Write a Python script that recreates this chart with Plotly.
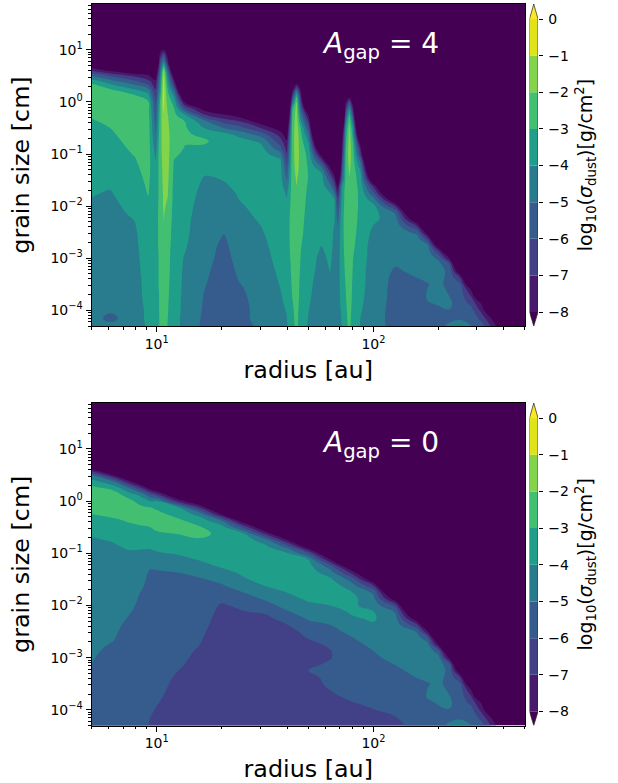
import plotly.graph_objects as go

W, H = 618, 783
# log10 of grain size [cm] at the grid rows, bottom to top
log_grain = [-4.3,-4.15,-4,-3.875,-3.75,-3.625,-3.5,-3.375,-3.25,-3.125,-3,-2.875,-2.75,-2.625,-2.5,-2.375,-2.25,-2.125,-2,-1.875,-1.75,-1.625,-1.5,-1.375,-1.25,-1.125,-1,-.875,-.75,-.625,-.5,-.375,-.25,-.125,0,.125,.25,.375,.5,.625,.75,1,1.25,1.9]

# log10 of radius [au] at the grid columns
log_radius_gap4 = [.70,.785,.90,.96,.995,1.015,1.032,1.05,1.08,1.13,1.22,1.31,1.38,1.48,1.57,1.60,1.625,1.645,1.665,1.70,1.76,1.80,1.82,1.835,1.855,1.872,1.889,1.906,1.94,2.0,2.1,2.2,2.25,2.3,2.35,2.4,2.45,2.5,2.55,2.6,2.7]
# log10(sigma_dust), one list per radius, bottom to top (off-scale sky omitted at the end of each list)
sigma_gap4 = [
[-4.6,-4.6,-4.55,-4.53,-4.5,-4.48,-4.45,-4.43,-4.4,-4.38,-4.35,-4.33,-4.3,-4.28,-4.25,-4.23,-4.2,-4.15,-4.1,-4.03,-3.95,-3.85,-3.75,-3.65,-3.55,-3.48,-3.4,-3.33,-3.25,-3.18,-3.1,-3.08,-2.9,-2.6,-2.35,-2.25,-2.5,-3.1,-4.9,-7.5,-10,-14,-16],
[-4.75,-5.25,-4.85,-4.75,-4.6,-4.58,-4.55,-4.53,-4.5,-4.48,-4.45,-4.43,-4.4,-4.38,-4.35,-4.33,-4.3,-4.25,-4.2,-4.13,-4.05,-3.95,-3.85,-3.73,-3.6,-3.48,-3.35,-3.28,-3.2,-3.1,-3.0,-2.85,-2.7,-2.5,-2.4,-2.5,-3.0,-4.3,-6,-8.6,-11.1,-15,-16],
[-4.5,-4.45,-4.4,-4.35,-4.3,-4.3,-4.3,-4.28,-4.25,-4.23,-4.2,-4.18,-4.15,-4.13,-4.1,-4.03,-3.97,-3.85,-3.75,-3.65,-3.55,-3.45,-3.35,-3.25,-3.15,-3.05,-2.95,-2.85,-2.75,-2.68,-2.6,-2.55,-2.5,-2.5,-2.6,-2.95,-4.1,-5.5,-7.2,-9.8,-12.3,-15,-16],
[-3.85,-3.8,-3.8,-3.78,-3.75,-3.73,-3.7,-3.68,-3.65,-3.63,-3.6,-3.58,-3.55,-3.5,-3.45,-3.4,-3.35,-3.28,-3.2,-3.08,-2.95,-2.88,-2.8,-2.73,-2.65,-2.6,-2.55,-2.53,-2.5,-2.5,-2.5,-2.52,-2.55,-2.65,-2.85,-3.6,-4.9,-6.5,-7.8,-9,-12,-15,-16],
[-3.25,-3.25,-3.2,-3.2,-3.2,-3.2,-3.2,-3.2,-3.2,-3.2,-3.2,-3.2,-3.2,-3.2,-3.2,-3.22,-3.25,-3.3,-3.35,-3.43,-3.5,-3.6,-3.7,-3.8,-3.9,-3.98,-4.2,-4.45,-4.75,-4.97,-5.2,-5.4,-5.6,-5.85,-6.1,-6.6,-7.1,-7.65,-8.7,-10,-13,-15,-16],
[-2.95,-2.95,-2.95,-2.95,-2.95,-2.93,-2.9,-2.9,-2.9,-2.9,-2.9,-2.88,-2.85,-2.85,-2.85,-2.83,-2.8,-2.78,-2.75,-2.73,-2.7,-2.65,-2.6,-2.55,-2.5,-2.45,-2.4,-2.4,-2.4,-2.45,-2.5,-2.6,-2.7,-2.8,-2.95,-3.4,-3.9,-4.3,-4.8,-5.5,-6.2,-8.6,-16],
[-2.4,-2.4,-2.35,-2.35,-2.35,-2.33,-2.3,-2.28,-2.25,-2.23,-2.2,-2.18,-2.15,-2.13,-2.1,-2.04,-1.98,-1.93,-1.87,-1.83,-1.8,-1.76,-1.72,-1.68,-1.65,-1.6,-1.55,-1.5,-1.45,-1.38,-1.3,-1.18,-1.05,-.92,-.8,-.75,-.75,-.8,-.95,-1.9,-4,-7.8,-13],
[-3.02,-2.98,-2.95,-2.93,-2.9,-2.88,-2.85,-2.83,-2.8,-2.78,-2.75,-2.73,-2.7,-2.65,-2.6,-2.5,-2.4,-2.28,-2.15,-2.03,-1.93,-1.86,-1.8,-1.75,-1.72,-1.7,-1.7,-1.72,-1.75,-1.8,-1.85,-1.9,-1.95,-2.12,-2.35,-2.65,-3.0,-3.6,-4.2,-5.4,-7,-9.2,-16],
[-3.5,-3.5,-3.45,-3.45,-3.45,-3.43,-3.4,-3.4,-3.4,-3.4,-3.4,-3.38,-3.35,-3.35,-3.35,-3.35,-3.35,-3.35,-3.35,-3.33,-3.3,-3.28,-3.25,-3.2,-3.13,-3.03,-2.85,-2.65,-2.55,-2.5,-2.5,-2.6,-2.75,-2.95,-3.4,-4.2,-5.6,-7.2,-8.9,-11,-13,-16],
[-4.4,-4.4,-4.35,-4.33,-4.3,-4.28,-4.25,-4.23,-4.2,-4.15,-4.1,-3.98,-3.9,-3.85,-3.8,-3.78,-3.75,-3.7,-3.65,-3.6,-3.55,-3.48,-3.4,-3.35,-3.3,-3.22,-3.15,-3.03,-2.93,-2.9,-2.88,-3.0,-3.85,-6.0,-8.2,-10.5,-13,-15,-16],
[-5.2,-5.15,-5.1,-5.08,-5.05,-5.0,-4.95,-4.9,-4.85,-4.8,-4.75,-4.73,-4.7,-4.65,-4.6,-4.58,-4.55,-4.5,-4.45,-4.38,-4.3,-4.2,-4.1,-3.93,-3.75,-3.5,-3.3,-3.1,-2.9,-3.15,-4.0,-4.7,-6.9,-8.6,-11,-13,-15,-16],
[-5.5,-5.5,-5.5,-5.5,-5.5,-5.45,-5.4,-5.38,-5.35,-5.3,-5.25,-5.2,-5.15,-5.07,-4.97,-4.87,-4.75,-4.63,-4.5,-4.38,-4.25,-4.12,-3.98,-3.85,-3.7,-3.57,-3.45,-3.38,-3.35,-3.6,-5.0,-6.4,-7.8,-10.3,-12.8,-15,-16],
[-5.2,-5.2,-5.2,-5.18,-5.15,-5.1,-5.03,-4.95,-4.88,-4.82,-4.75,-4.7,-4.65,-4.58,-4.5,-4.4,-4.3,-4.2,-4.1,-4.0,-3.92,-3.8,-3.7,-3.6,-3.5,-3.45,-3.4,-3.45,-3.6,-4.3,-5.6,-6.9,-8.6,-11,-13.5,-15,-16],
[-4.9,-4.8,-4.8,-4.78,-4.75,-4.73,-4.7,-4.65,-4.6,-4.55,-4.5,-4.4,-4.3,-4.2,-4.1,-4.0,-3.9,-3.82,-3.75,-3.7,-3.65,-3.6,-3.55,-3.52,-3.5,-3.5,-3.5,-3.7,-4.2,-5.4,-7.0,-8.7,-11,-13.5,-15,-16],
[-4.2,-4.2,-4.2,-4.15,-4.1,-4.02,-3.95,-3.87,-3.8,-3.7,-3.6,-3.55,-3.5,-3.48,-3.45,-3.45,-3.45,-3.45,-3.45,-3.47,-3.5,-3.55,-3.6,-3.65,-3.7,-3.8,-4.7,-5.8,-6.6,-7.4,-8.7,-11,-13,-15,-16],
[-4.1,-4.02,-3.95,-3.85,-3.75,-3.67,-3.6,-3.52,-3.45,-3.4,-3.35,-3.32,-3.3,-3.3,-3.3,-3.33,-3.4,-3.52,-3.7,-3.9,-4.15,-4.55,-5,-5.45,-5.9,-6.4,-6.9,-7.4,-7.9,-8.7,-9.6,-11,-13,-15,-16],
[-3.25,-3.2,-3.15,-3.08,-3.0,-2.95,-2.9,-2.88,-2.85,-2.83,-2.8,-2.78,-2.75,-2.73,-2.7,-2.68,-2.65,-2.63,-2.6,-2.58,-2.55,-2.53,-2.5,-2.48,-2.45,-2.45,-2.45,-2.48,-2.5,-2.55,-2.6,-2.72,-2.85,-3.3,-5.3,-7.0,-8.7,-11,-13.5,-16],
[-2.8,-2.75,-2.7,-2.65,-2.6,-2.58,-2.55,-2.53,-2.5,-2.48,-2.45,-2.43,-2.4,-2.38,-2.35,-2.33,-2.3,-2.25,-2.2,-2.15,-2.1,-2.02,-1.92,-1.78,-1.65,-1.57,-1.5,-1.45,-1.4,-1.4,-1.4,-1.45,-1.5,-1.65,-1.9,-3.2,-5.9,-8.7,-11.5,-14,-16],
[-3.5,-3.45,-3.4,-3.35,-3.3,-3.27,-3.25,-3.2,-3.15,-3.1,-3.05,-3.0,-2.95,-2.88,-2.8,-2.75,-2.7,-2.65,-2.6,-2.55,-2.5,-2.45,-2.4,-2.37,-2.35,-2.37,-2.4,-2.48,-2.6,-2.8,-3.1,-3.9,-4.7,-5.6,-6.6,-7.4,-8.4,-11,-14,-16],
[-4.1,-4.03,-3.98,-3.94,-3.9,-3.85,-3.8,-3.75,-3.7,-3.67,-3.65,-3.6,-3.55,-3.5,-3.45,-3.43,-3.4,-3.35,-3.3,-3.25,-3.2,-3.13,-3.05,-3.05,-3.1,-3.2,-3.3,-3.6,-4.15,-4.85,-5.8,-6.9,-8.1,-10.6,-13,-15,-16],
[-4.5,-4.45,-4.45,-4.43,-4.4,-4.4,-4.4,-4.35,-4.3,-4.25,-4.2,-4.1,-3.98,-3.87,-3.75,-3.67,-3.6,-3.55,-3.5,-3.5,-3.5,-3.55,-3.6,-3.9,-5.0,-6.6,-8.8,-11.3,-13.8,-16],
[-4.4,-4.35,-4.35,-4.3,-4.25,-4.2,-4.15,-4.07,-3.98,-3.92,-3.85,-3.78,-3.7,-3.65,-3.6,-3.57,-3.55,-3.57,-3.6,-3.7,-3.95,-4.7,-5.6,-6.8,-8.1,-10.6,-13,-15,-16],
[-4.4,-4.4,-4.4,-4.4,-4.4,-4.4,-4.4,-4.38,-4.35,-4.33,-4.3,-4.28,-4.25,-4.2,-4.15,-4.05,-3.95,-3.88,-3.85,-3.97,-4.95,-6.2,-7.2,-8.4,-10.8,-13.3,-15,-16],
[-4.4,-4.4,-4.4,-4.4,-4.4,-4.4,-4.4,-4.43,-4.45,-4.47,-4.5,-4.55,-4.6,-4.7,-4.8,-5.0,-5.3,-5.65,-6.1,-6.6,-7.4,-8.3,-10,-12,-14,-15,-16],
[-3.95,-3.9,-3.8,-3.7,-3.6,-3.55,-3.5,-3.45,-3.4,-3.38,-3.35,-3.33,-3.3,-3.3,-3.3,-3.33,-3.35,-3.42,-3.5,-3.6,-3.7,-3.97,-5.1,-5.6,-6.1,-6.65,-7.2,-7.7,-8.2,-9,-10.3,-12.5,-14.5,-16],
[-3.25,-3.2,-3.15,-3.1,-3.05,-3.0,-2.95,-2.9,-2.85,-2.8,-2.75,-2.7,-2.65,-2.62,-2.6,-2.57,-2.55,-2.55,-2.55,-2.58,-2.6,-2.62,-2.65,-2.7,-2.75,-2.82,-2.9,-3.07,-3.25,-3.5,-3.85,-4.65,-5.7,-6.9,-8.1,-10.6,-13,-15,-16],
[-2.75,-2.7,-2.6,-2.55,-2.5,-2.48,-2.45,-2.43,-2.4,-2.38,-2.35,-2.33,-2.3,-2.3,-2.3,-2.28,-2.25,-2.23,-2.2,-2.18,-2.15,-2.1,-2.05,-1.95,-1.8,-1.65,-1.55,-1.5,-1.55,-1.6,-1.75,-2.1,-2.8,-4.2,-6.2,-8.9,-11.5,-14,-16],
[-3.5,-3.45,-3.4,-3.35,-3.3,-3.25,-3.2,-3.15,-3.1,-3.05,-3.0,-2.93,-2.85,-2.78,-2.7,-2.65,-2.6,-2.55,-2.5,-2.47,-2.45,-2.45,-2.45,-2.5,-2.55,-2.62,-2.7,-2.85,-3.1,-3.5,-4.0,-5.0,-6.3,-7.5,-8.9,-11.4,-14,-16],
[-4.05,-4.0,-3.92,-3.86,-3.8,-3.75,-3.7,-3.67,-3.65,-3.6,-3.55,-3.52,-3.5,-3.45,-3.4,-3.35,-3.3,-3.27,-3.25,-3.27,-3.3,-3.4,-3.6,-3.8,-4.4,-5.3,-6.7,-7.6,-9.4,-11.9,-14,-16],
[-4.6,-4.6,-4.55,-4.53,-4.5,-4.5,-4.5,-4.5,-4.5,-4.48,-4.45,-4.43,-4.4,-4.3,-4.2,-4.02,-3.8,-3.65,-3.7,-4.5,-5.8,-7.1,-9.6,-12,-14,-16],
[-5.3,-5.35,-5.35,-5.33,-5.3,-5.28,-5.25,-5.2,-5.1,-4.95,-4.8,-4.6,-4.45,-4.38,-4.35,-4.4,-4.55,-5.1,-7.0,-9.5,-12,-14.5,-16],
[-5.5,-5.5,-5.5,-5.48,-5.45,-5.3,-5.15,-5.0,-4.85,-4.72,-4.6,-4.55,-4.5,-4.55,-5.3,-7.1,-9.6,-12,-14,-16],
[-5.5,-5.4,-5.2,-5.05,-4.93,-4.97,-5.04,-4.85,-4.7,-4.6,-4.55,-4.6,-4.95,-6.6,-9,-11.5,-14,-16],
[-5.2,-5.25,-5.1,-4.95,-4.7,-4.6,-4.75,-4.65,-4.55,-4.7,-5.2,-6.6,-9.3,-11.8,-14,-16],
[-4.85,-5.2,-5.03,-4.85,-4.97,-5.15,-5.3,-5.3,-5.3,-5.8,-8.0,-10.5,-13,-15,-16],
[-4.85,-5.05,-5.3,-5.45,-5.5,-5.55,-5.8,-7,-9.4,-11.9,-14,-16],
[-4.95,-5.3,-5.6,-6.2,-6.85,-7.8,-10,-12.5,-15,-16],
[-5.6,-6.4,-7.4,-8.1,-10.5,-13,-15,-16],
[-7.3,-8.3,-10.5,-13,-15,-16],
[-9.5,-11.5,-14,-16],
[-16,-17],
]

log_radius_gap0 = [.70,.80,.87,.93,.97,1.0,1.1,1.2,1.3,1.4,1.5,1.6,1.7,1.8,1.9,2.0,2.1,2.2,2.25,2.3,2.35,2.4,2.45,2.5,2.55,2.6,2.7]
sigma_gap0 = [
[-5.45,-5.4,-5.35,-5.3,-5.25,-5.2,-5.15,-5.1,-5.05,-5,-4.95,-4.9,-4.85,-4.8,-4.75,-4.7,-4.65,-4.6,-4.55,-4.5,-4.45,-4.4,-4.35,-4.3,-4.25,-4.2,-4.15,-4.1,-4.05,-3.95,-3.7,-3.3,-3.0,-2.7,-2.5,-2.4,-2.75,-3.5,-5.0,-8.5,-11,-16,-16],
[-5.6,-5.6,-5.55,-5.53,-5.5,-5.48,-5.45,-5.4,-5.35,-5.3,-5.25,-5.15,-5.05,-4.95,-4.85,-4.78,-4.7,-4.62,-4.55,-4.5,-4.45,-4.38,-4.3,-4.25,-4.2,-4.15,-4.1,-4.05,-3.97,-3.7,-3.35,-3.1,-2.85,-2.6,-2.45,-2.6,-3.25,-5.0,-8.1,-10.3,-13,-16],
[-5.7,-5.7,-5.7,-5.68,-5.65,-5.63,-5.6,-5.58,-5.55,-5.53,-5.5,-5.45,-5.4,-5.35,-5.3,-5.18,-5.05,-4.93,-4.8,-4.7,-4.6,-4.5,-4.4,-4.3,-4.2,-4.12,-4.05,-3.95,-3.75,-3.4,-3.12,-2.95,-2.8,-2.7,-2.75,-3.4,-5.0,-7.6,-10.1,-12.6,-15,-16],
[-5.8,-5.8,-5.75,-5.73,-5.7,-5.68,-5.65,-5.63,-5.6,-5.58,-5.55,-5.53,-5.5,-5.45,-5.4,-5.35,-5.3,-5.25,-5.2,-5.13,-5.05,-4.9,-4.75,-4.58,-4.4,-4.27,-4.15,-3.9,-3.65,-3.3,-3.05,-2.85,-2.75,-2.85,-3.35,-4.4,-7,-9.6,-12,-15,-16],
[-6.05,-6.0,-5.9,-5.85,-5.8,-5.78,-5.75,-5.73,-5.7,-5.68,-5.65,-5.63,-5.6,-5.58,-5.55,-5.53,-5.5,-5.45,-5.4,-5.38,-5.35,-5.3,-5.25,-5.15,-4.85,-4.6,-4.25,-3.85,-3.55,-3.25,-3.0,-2.85,-2.7,-2.95,-4.0,-5.8,-8.6,-11,-14,-16],
[-6.2,-6.15,-6.05,-5.97,-5.9,-5.85,-5.8,-5.78,-5.75,-5.73,-5.7,-5.68,-5.65,-5.63,-5.6,-5.55,-5.5,-5.45,-5.4,-5.35,-5.3,-5.25,-5.2,-5.1,-4.85,-4.5,-4.1,-3.75,-3.4,-3.1,-2.85,-2.75,-2.75,-3.15,-3.95,-6.6,-9.4,-12,-14,-16],
[-6.4,-6.4,-6.35,-6.3,-6.25,-6.2,-6.15,-6.08,-6.0,-5.9,-5.8,-5.75,-5.7,-5.65,-5.6,-5.55,-5.5,-5.45,-5.4,-5.35,-5.3,-5.25,-5.15,-5.0,-4.6,-4.3,-3.9,-3.55,-3.2,-2.98,-2.75,-2.85,-3.3,-3.9,-7.4,-10,-12.5,-15,-17],
[-6.45,-6.45,-6.4,-6.4,-6.4,-6.38,-6.35,-6.33,-6.3,-6.25,-6.2,-6.1,-6.0,-5.93,-5.85,-5.75,-5.65,-5.58,-5.5,-5.43,-5.35,-5.2,-5.1,-4.7,-4.3,-3.95,-3.65,-3.3,-3.05,-2.9,-2.95,-3.4,-4.4,-7,-9.6,-12,-14,-16],
[-6.6,-6.6,-6.6,-6.6,-6.6,-6.6,-6.6,-6.6,-6.6,-6.58,-6.55,-6.53,-6.5,-6.45,-6.4,-6.35,-6.3,-6.2,-6.1,-5.8,-5.45,-5.1,-4.75,-4.3,-3.9,-3.7,-3.55,-3.25,-3.03,-3.1,-3.55,-5,-8.2,-10.7,-13,-14,-16],
[-6.65,-6.65,-6.65,-6.63,-6.6,-6.6,-6.6,-6.6,-6.6,-6.58,-6.55,-6.53,-6.5,-6.45,-6.4,-6.3,-6.2,-6.05,-5.8,-5.4,-5.0,-4.55,-4.1,-3.85,-3.65,-3.5,-3.35,-3.3,-3.45,-3.85,-6.2,-8.9,-11.4,-14,-16],
[-6.7,-6.7,-6.7,-6.7,-6.7,-6.7,-6.7,-6.7,-6.7,-6.68,-6.65,-6.63,-6.6,-6.55,-6.5,-6.4,-6.3,-5.85,-5.35,-4.9,-4.45,-4.0,-3.7,-3.55,-3.4,-3.4,-3.6,-3.75,-4.5,-7.1,-9.6,-12,-14,-16],
[-6.7,-6.7,-6.7,-6.7,-6.7,-6.68,-6.65,-6.65,-6.65,-6.63,-6.6,-6.6,-6.6,-6.55,-6.45,-6.05,-5.55,-5.1,-4.7,-4.35,-4.0,-3.7,-3.5,-3.45,-3.5,-3.65,-3.85,-5.3,-7.8,-10.3,-12.8,-15,-16],
[-6.65,-6.65,-6.6,-6.55,-6.5,-6.4,-6.3,-6.2,-6.0,-6.15,-6.3,-6.35,-6.25,-5.95,-5.6,-5.25,-4.9,-4.55,-4.2,-3.85,-3.6,-3.5,-3.45,-3.5,-3.65,-4.0,-6.0,-8.9,-11.4,-13.9,-16],
[-6.45,-6.4,-6.3,-6.25,-6.15,-6.0,-5.85,-5.8,-5.8,-5.9,-6.05,-6.05,-5.85,-5.6,-5.3,-5.0,-4.7,-4.35,-4.0,-3.65,-3.45,-3.4,-3.8,-4.5,-5.5,-7.9,-10.4,-13,-15,-16],
[-6.35,-6.3,-6.2,-6.05,-5.85,-5.7,-5.6,-5.55,-5.5,-5.45,-5.4,-5.35,-5.25,-5.05,-4.75,-4.5,-4.1,-3.9,-3.8,-3.7,-3.95,-4.55,-5.4,-7.2,-9.7,-12,-14,-16],
[-6.2,-6.12,-6.02,-5.85,-5.7,-5.55,-5.45,-5.38,-5.3,-5.22,-5.15,-5.0,-4.8,-4.55,-4.3,-4.1,-3.9,-3.95,-4.45,-4.75,-5.15,-6.8,-9.2,-11.7,-14,-16],
[-6.15,-6.03,-5.85,-5.75,-5.65,-5.57,-5.5,-5.4,-5.2,-4.98,-4.75,-4.6,-4.5,-4.42,-4.4,-4.45,-4.65,-5.05,-6.2,-8.7,-11.2,-13.7,-16],
[-5.8,-5.7,-5.65,-5.58,-5.5,-5.4,-5.2,-4.97,-4.75,-4.6,-4.5,-4.45,-4.45,-4.6,-5.05,-6.7,-9,-11.5,-14,-16],
[-5.6,-5.45,-5.3,-5.15,-4.93,-4.97,-5.05,-4.8,-4.6,-4.5,-4.45,-4.45,-4.7,-5.6,-8,-10.5,-13,-15,-16],
[-5.2,-5.25,-5.1,-4.95,-4.7,-4.6,-4.8,-4.7,-4.55,-4.5,-4.65,-5.5,-8.2,-10.7,-13.2,-15,-16],
[-4.85,-5.2,-5.03,-4.85,-4.95,-5.15,-5.3,-5.3,-5.25,-5.7,-8.4,-10.9,-13.4,-15,-16],
[-4.85,-5.05,-5.3,-5.45,-5.5,-5.55,-5.8,-7,-9.4,-11.9,-14,-16],
[-4.95,-5.3,-5.6,-6.2,-6.85,-7.8,-10,-12.5,-15,-16],
[-5.6,-6.4,-7.4,-8.1,-10.5,-13,-15,-16],
[-7.3,-8.3,-10.5,-13,-15,-16],
[-9.5,-11.5,-14,-16],
[-16,-17],
]

# band colours: below -8, the eight unit bands from -8 to 0, above 0
band_colors = ["#440154","#481a6c","#424086","#365c8d","#297b8e","#1f9e89","#43bf71","#84d44b","#dfe318","#fde725"]
levels = [-8,-7,-6,-5,-4,-3,-2,-1,0]
x_ticks = [10,100]
x_ticktext = ["10<sup>1</sup>","10<sup>2</sup>"]
y_ticks = [1e-4,1e-3,1e-2,1e-1,1,10]
y_ticktext = ["10<sup>\u22124</sup>","10<sup>\u22123</sup>","10<sup>\u22122</sup>","10<sup>\u22121</sup>","10<sup>0</sup>","10<sup>1</sup>"]
panel_labels = ["<i>A</i><sub>gap</sub> = 4","<i>A</i><sub>gap</sub> = 0"]
x_title, y_title = "radius [au]", "grain size [cm]"
cb_title = "log<sub>10</sub>(<i>σ</i><sub>dust</sub>)[g/cm<sup>2</sup>]"

FONT = "DejaVu Sans"
n = len(band_colors)
cscale = []
for i, c in enumerate(band_colors):
    cscale += [[i/n, c], [(i+1)/n, c]]

def grid(cols):
    rows = len(log_grain)
    full = [c + [-18.0]*(rows-len(c)) for c in cols]
    return [[full[j][i] for j in range(len(full))] for i in range(rows)]

fig = go.Figure()
panels = [
    dict(lr=log_radius_gap4, z=sigma_gap4, top=4, bot=326),
    dict(lr=log_radius_gap0, z=sigma_gap0, top=403, bot=725.5),
]
layout = dict(
    width=W, height=H, margin=dict(l=0,r=0,t=0,b=0), paper_bgcolor="white", plot_bgcolor="white",
    showlegend=False, barmode="overlay", font=dict(family=FONT, color="black"), annotations=[],
)
for k, p in enumerate(panels):
    xa_main, ya_main = ("x","y") if k==0 else ("x3","y3")
    xa_cb, ya_cb = ("x2","y2") if k==0 else ("x4","y4")
    dom_y = [1-p["bot"]/H, 1-p["top"]/H]
    fig.add_trace(go.Contour(
        x=[10**v for v in p["lr"]], y=[10**v for v in log_grain], z=grid(p["z"]),
        xaxis=xa_main, yaxis=ya_main, colorscale=cscale, showscale=False, hoverinfo="skip",
        autocontour=False, contours=dict(start=-8,end=0,size=1,coloring="fill",showlines=False),
        line=dict(width=0,smoothing=1.3),
    ))
    # colour bar with triangular extensions
    fig.add_trace(go.Bar(x=[0.5]*8, y=[1]*8, base=levels[:-1], width=1, marker=dict(color=band_colors[1:9],line=dict(width=0)),
                         xaxis=xa_cb, yaxis=ya_cb, hoverinfo="skip"))
    fig.add_trace(go.Scatter(x=[0,.5,1,0], y=[0,.41,0,0], fill="toself", fillcolor=band_colors[-1], mode="none",
                             xaxis=xa_cb, yaxis=ya_cb, hoverinfo="skip"))
    fig.add_trace(go.Scatter(x=[0,.5,1,0], y=[-8,-8.38,-8,-8], fill="toself", fillcolor=band_colors[0], mode="none",
                             xaxis=xa_cb, yaxis=ya_cb, hoverinfo="skip"))
    fig.add_trace(go.Scatter(x=[0,.5,1,1,.5,0,0], y=[0,.41,0,-8,-8.38,-8,0], mode="lines", line=dict(color="#222",width=0.7),
                             xaxis=xa_cb, yaxis=ya_cb, hoverinfo="skip"))
    name = lambda a: ("xaxis" if a[0]=="x" else "yaxis") + a[1:]
    minor = dict(ticks="outside", ticklen=2.5, tickwidth=0.8, tickcolor="black", dtick="D1", showgrid=False)
    layout[name(xa_main)] = dict(type="log", domain=[91.5/W,525/W], range=[0.699,2.699], anchor=ya_main,
        tickmode="array", tickvals=x_ticks, ticktext=x_ticktext, ticks="outside", ticklen=5, tickwidth=1.2, tickcolor="black",
        minor=minor, showline=True, mirror=True, linecolor="black", linewidth=1, showgrid=False, zeroline=False,
        tickfont=dict(size=14,family=FONT), title=dict(text=x_title, font=dict(size=23.8,family=FONT), standoff=10))
    layout[name(ya_main)] = dict(type="log", domain=dom_y, range=[-4.301,1.881], anchor=xa_main,
        tickmode="array", tickvals=y_ticks, ticktext=y_ticktext, ticks="outside", ticklen=5, tickwidth=1.2, tickcolor="black",
        minor=minor, showline=True, mirror=True, linecolor="black", linewidth=1, showgrid=False, zeroline=False,
        tickfont=dict(size=14,family=FONT), title=dict(text=y_title, font=dict(size=23.8,family=FONT), standoff=14))
    layout[name(xa_cb)] = dict(domain=[529.5/W,538/W], range=[0,1], anchor=ya_cb, visible=False, fixedrange=True)
    layout[name(ya_cb)] = dict(domain=dom_y, range=[-8.38,0.41], anchor=xa_cb, side="right", showgrid=False, zeroline=False,
        tickmode="array", tickvals=levels, ticks="outside", ticklen=3.5, tickwidth=1, tickcolor="black", showline=False,
        ticklabelstandoff=3,
        tickfont=dict(size=14,family=FONT), title=dict(text=cb_title, font=dict(size=19,family=FONT), standoff=10))
    layout["annotations"].append(dict(text=panel_labels[k], xref="paper", yref="paper",
        x=381/W, y=1-(p["top"]+41)/H, xanchor="center", yanchor="middle", showarrow=False,
        font=dict(size=28,color="white",family=FONT)))
fig.update_layout(**layout)
fig.write_html("out.html", config={"displayModeBar": False}, post_script="document.body.style.margin='0';")
